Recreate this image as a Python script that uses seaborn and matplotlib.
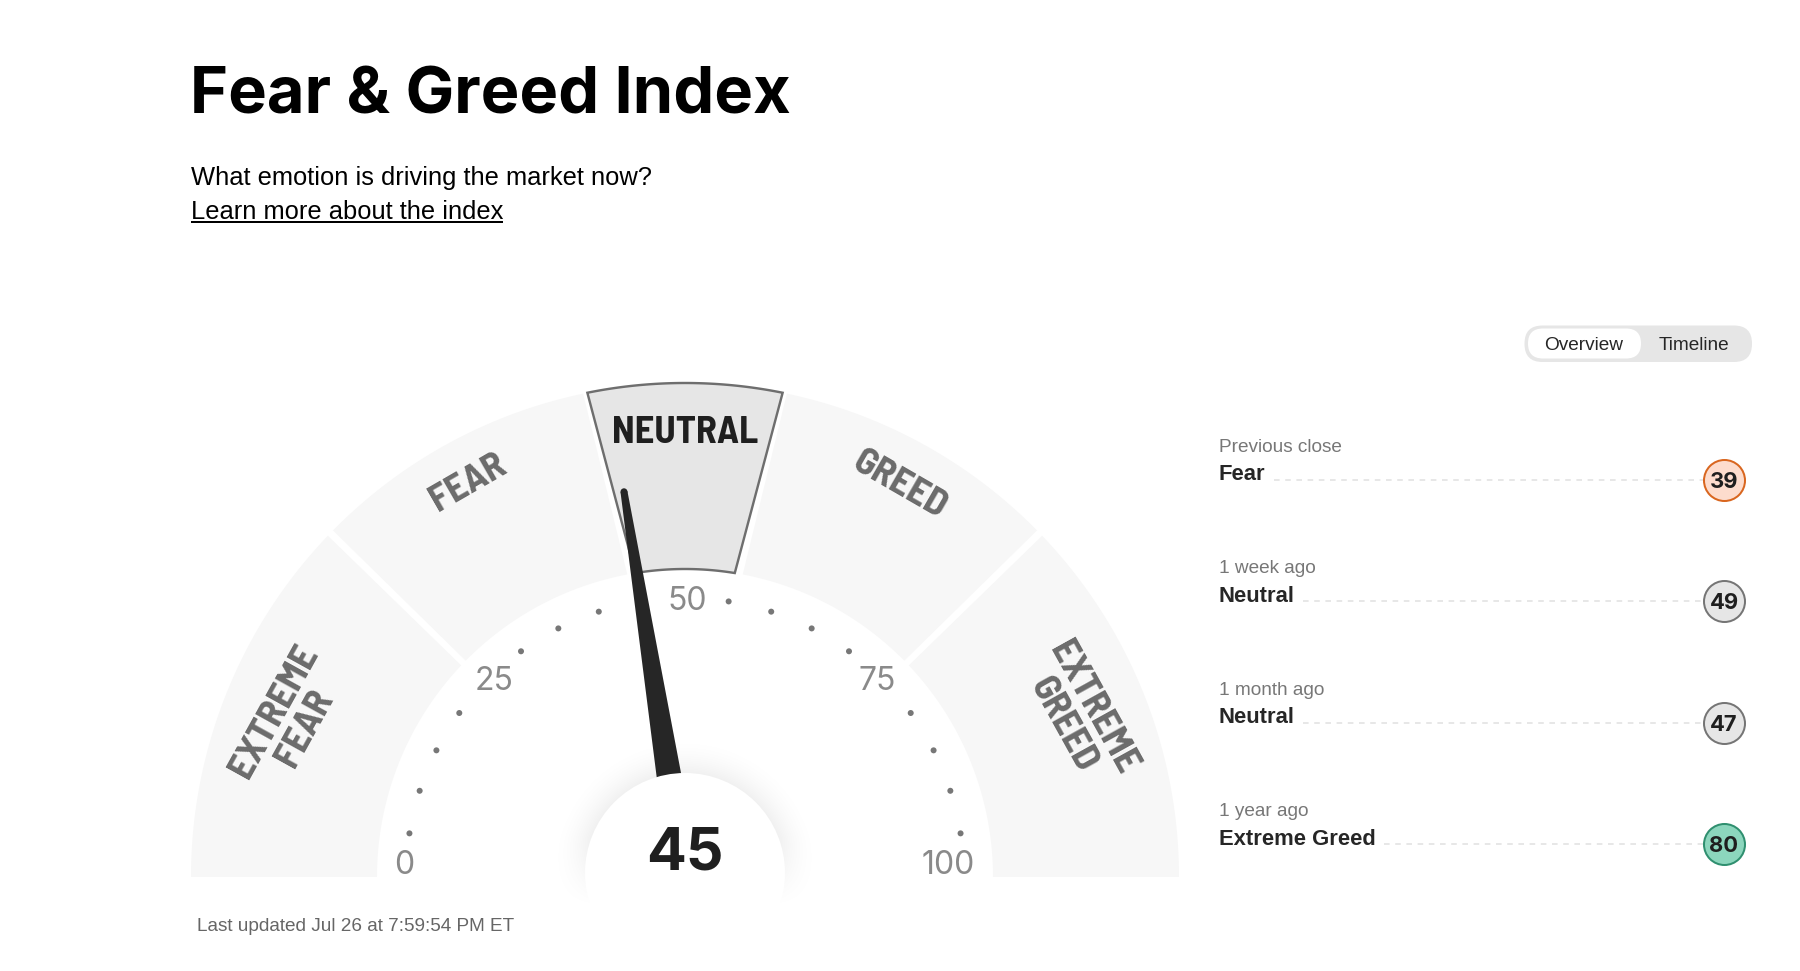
import numpy as np
import pandas as pd
import matplotlib
matplotlib.use("Agg")
import matplotlib.pyplot as plt
from matplotlib.patches import FancyBboxPatch, Circle
import seaborn as sns

# ---- data ----
title = "Fear & Greed Index"
subtitle = "What emotion is driving the market now?"
link_text = "Learn more about the index"
updated = "Last updated Jul 26 at 7:59:54 PM ET"
index_value = 45
segment_names = ["EXTREME\nFEAR", "FEAR", "NEUTRAL", "GREED", "EXTREME\nGREED"]
segment_limits = [0, 25, 45, 55, 75, 100]
tick_values = [5, 10, 15, 20, 30, 35, 40, 45, 55, 60, 65, 70, 80, 85, 90, 95]
scale_labels = [0, 25, 50, 75, 100]
row_periods = ["Previous close", "1 week ago", "1 month ago", "1 year ago"]
row_ratings = ["Fear", "Neutral", "Neutral", "Extreme Greed"]
row_values = [39, 49, 47, 80]
toggle_labels = ["Overview", "Timeline"]

# ---- styles / layout ----
W, H = 1800, 971
CX, CY = 685, 877
R_OUT, R_IN, R_TICK, R_HUB = 494, 308, 279, 100
HUB_Y = 873
SANS = ["Liberation Sans", "DejaVu Sans"]
COND = ["Barlow Semi Condensed", "Liberation Sans"]
HEAD = ["Inter", "Liberation Sans"]
NUM = ["Inter", "Liberation Sans"]
# gap offset of each segment's ends in degrees (low outer, low inner, high outer, high inner)
edge_off = [(0, 0, -1.3, -1.6), (-0.45, -0.4, -2.9, -1.8), (-2.4, -0.3, -2.4, -0.3),
            (-2.9, -1.8, -0.45, -0.4), (-1.3, -1.6, 0, 0)]
label_pos = [(290, 720, 61), (468, 483, 30), (685, 433, 0), (900, 485, -30), (1078, 716, -61)]
scale_off = [(-2, -11.5), (6, 1.5), (2.5, 3.5), (-5, 1.5), (-16, -11.5)]
styles = {"Fear": ("#fddccd", "#d9661f"), "Neutral": ("#e6e6e6", "#757575"),
          "Extreme Greed": ("#8cd6bd", "#2f8f6f")}

sns.set_theme(style="white")
plt.rcParams["font.family"] = SANS
fig = plt.figure(figsize=(W / 100, H / 100), dpi=100, facecolor="white")
ax = fig.add_axes([0, 0, 1, 1])


def px(p):
    return p * 0.72


def deg(v):
    return v * 1.8


def polar(a, r):
    """a: gauge angle in degrees, 0 at value 0, 180 at value 100."""
    t = np.radians(a)
    return CX - r * np.cos(t), CY - r * np.sin(t)


def shift(a, off):
    # offsets point toward the outer end of the gauge on either half
    return a + off if a <= 90 else a - off


# segments
for i, name in enumerate(segment_names):
    lo, hi = deg(segment_limits[i]), deg(segment_limits[i + 1])
    lo_o, lo_i, hi_o, hi_i = edge_off[i]
    a_out = np.linspace(shift(lo, lo_o), shift(hi, hi_o), 160)
    a_in = np.linspace(shift(hi, hi_i), shift(lo, lo_i), 160)
    xo, yo = polar(a_out, R_OUT)
    xi, yi = polar(a_in, R_IN)
    xs, ys = np.r_[xo, xi], np.r_[yo, yi]
    active = name == "NEUTRAL"
    ax.fill(xs, ys, facecolor="#e6e6e6" if active else "#f7f7f7",
            edgecolor="#6e6e6e" if active else "none", lw=px(2.4) if active else 0,
            joinstyle="miter", zorder=2 if active else 1)
    lx, ly, rot = label_pos[i]
    ax.text(lx, ly, name, rotation=rot, rotation_mode="anchor", ha="center", va="center",
            ma="center", family=COND, weight="bold", fontsize=px(38.5), linespacing=1.05,
            color="#1f1f1f" if active else "#6b6b6b", zorder=3)

# tick dots
tick_df = pd.DataFrame({"value": tick_values})
tick_df["x"], tick_df["y"] = polar(deg(tick_df["value"].to_numpy()), R_TICK)
sns.scatterplot(data=tick_df, x="x", y="y", s=px(6) ** 2, color="#777777", edgecolor="none",
                legend=False, ax=ax, zorder=3)

# scale labels
for v, (dx, dy) in zip(scale_labels, scale_off):
    x, y = polar(deg(v), R_TICK)
    ax.text(x + dx, y + dy, str(v), ha="center", va="center", fontsize=px(32), color="#8a8a8a",
            family=NUM, zorder=3)

# soft hub shadow, faded toward the bottom
gx, gy = np.meshgrid(np.arange(CX - 160, CX + 161), np.arange(HUB_Y - 160, 930))
dist = np.hypot(gx - CX, gy - HUB_Y)
glow = np.clip(1 - (dist - R_HUB) / 40, 0, 1) ** 2 * 0.06
glow *= np.clip((908 - gy) / 70, 0, 1)
rgba = np.zeros(gx.shape + (4,))
rgba[..., 3] = glow
ax.imshow(rgba, extent=(gx.min(), gx.max(), gy.max(), gy.min()), interpolation="bilinear",
          aspect="auto", zorder=4)

# needle
a = deg(index_value)
t = np.radians(a)
nx, ny = np.sin(t), np.cos(t)
bx, by = polar(a, R_HUB - 2)
tx, ty = polar(a, 390)
hb, ht = 12.5, 3.5
ax.fill([bx - hb * nx, bx + hb * nx, tx + ht * nx, tx - ht * nx],
        [by + hb * ny, by - hb * ny, ty - ht * ny, ty + ht * ny],
        color="#262626", lw=0, zorder=5)
ax.add_patch(Circle((tx, ty), ht, fc="#262626", ec="none", zorder=5))

# hub
ax.add_patch(Circle((CX, HUB_Y), R_HUB, fc="white", ec="none", zorder=6))
ax.text(CX, 869, str(index_value), ha="center", va="baseline", fontsize=px(59), weight="bold",
        family=NUM, color="#1f1f1f", zorder=7)

ax.set_xlim(0, W)
ax.set_ylim(H, 0)
ax.axis("off")

# header
ax.text(190, 113, title, fontsize=px(65), weight="bold", family=HEAD, color="black", va="baseline")
ax.text(191, 185, subtitle, fontsize=px(25.5), color="black", va="baseline")
link = ax.text(191, 219, link_text, fontsize=px(25.5), color="black", va="baseline")
ax.text(197, 931, updated, fontsize=px(19), color="#666666", va="baseline")

# toggle
ax.add_patch(FancyBboxPatch((1524.5 + 18, 325.5 + 18), 227.5 - 36, 36.5 - 36,
                            boxstyle="round,pad=18,rounding_size=18", fc="#e6e6e6", ec="none"))
ax.add_patch(FancyBboxPatch((1528 + 15, 328.5 + 15), 113 - 30, 30 - 30,
                            boxstyle="round,pad=15,rounding_size=15", fc="white", ec="none"))
for lab, x in zip(toggle_labels, [1584, 1694]):
    ax.text(x, 350, lab, ha="center", va="baseline", fontsize=px(19), color="#262626")

# history rows
fig.canvas.draw()
rend = fig.canvas.get_renderer()
row_y0, row_step, circle_x = 480, 121.4, 1724
for i, (per, rate, val) in enumerate(zip(row_periods, row_ratings, row_values)):
    y = row_y0 + i * row_step
    ax.text(1219, y - 28, per, fontsize=px(19), color="#777777", va="baseline")
    t_rate = ax.text(1219, y + 0.5, rate, fontsize=px(22), weight="bold", color="#262626", va="baseline")
    x_end = t_rate.get_window_extent(rend).x1
    ax.plot([x_end + 8, circle_x - 20], [y, y], color="#e2e2e2", lw=px(1.6),
            dashes=(3.5, 3.5), zorder=1)
    fc, ec = styles[rate]
    row_df = pd.DataFrame({"x": [circle_x], "y": [y], "value": [val]})
    sns.scatterplot(data=row_df, x="x", y="y", s=px(41) ** 2, color=fc, edgecolor=ec,
                    linewidth=px(2), legend=False, ax=ax, zorder=3)
    ax.text(circle_x, y + 8, str(val), ha="center", va="baseline", fontsize=px(22), weight="bold",
            family=NUM, color="#1f1f1f", zorder=4)

# link underline
ext = link.get_window_extent(rend)
ax.plot([ext.x0, ext.x1], [222.5, 222.5], color="black", lw=px(2), solid_capstyle="butt")

ax.set_xlim(0, W)
ax.set_ylim(H, 0)
fig.savefig("out.png", dpi=100, facecolor="white")
